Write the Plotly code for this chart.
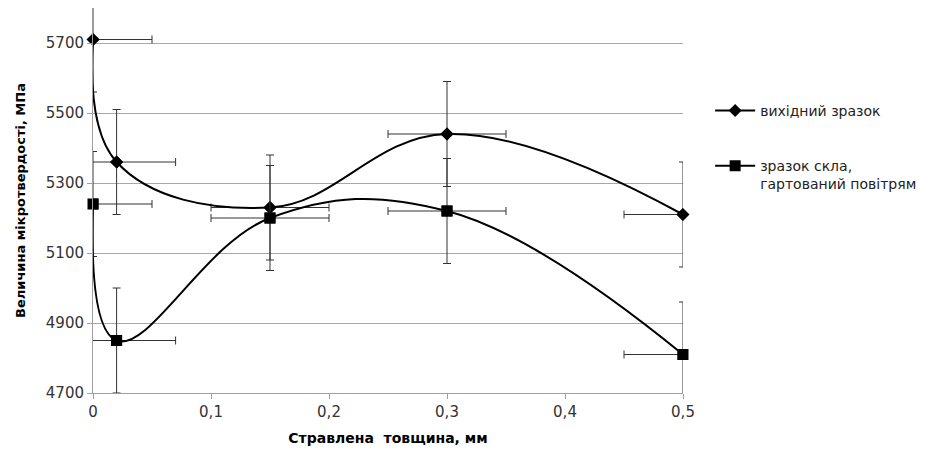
import plotly.graph_objects as go

x_vals = [0, 0.02, 0.15, 0.3, 0.5]
s1_name = "вихідний зразок"
s1_y = [5710, 5360, 5230, 5440, 5210]
s2_name = "зразок скла,<br>гартований повітрям"
s2_y = [5240, 4850, 5200, 5220, 4810]
y_err = [150, 150, 150, 150, 150]
x_err = [0.05, 0.05, 0.05, 0.05, 0.05]

x_title = "Стравлена\u00a0\u00a0товщина, мм"
y_title = "Величина мікротвердості, МПа"

ERR_COLOR = "#333333"
FONT = "DejaVu Sans"

fig = go.Figure()

for name, ys, sym, size, grp in [(s1_name, s1_y, "diamond", 10, "a"),
                                  (s2_name, s2_y, "square", 11, "b")]:
    fig.add_trace(go.Scatter(
        x=x_vals, y=ys, name=name, legendgroup=grp,
        mode="lines+markers",
        line=dict(color="black", width=2, shape="spline", smoothing=1.15),
        marker=dict(symbol=sym, size=size, color="black"),
        error_y=dict(type="data", array=y_err, color=ERR_COLOR, thickness=1, width=4),
        error_x=dict(type="data", array=x_err, color=ERR_COLOR, thickness=1, width=4),
        cliponaxis=True,
    ))
    fig.add_trace(go.Scatter(
        x=x_vals, y=ys, mode="markers", showlegend=False, legendgroup=grp,
        marker=dict(symbol=sym, size=size, color="black"),
        cliponaxis=False, hoverinfo="skip",
    ))

fig.update_layout(
    width=931, height=444,
    margin=dict(l=85, r=256, t=0, b=59, autoexpand=False),
    paper_bgcolor="white", plot_bgcolor="white",
    separators=", ",
    font=dict(family=FONT, size=15, color="#333333"),
    showlegend=True,
    legend=dict(x=1.046, xanchor="left", y=0.774, yanchor="top",
                font=dict(family=FONT, size=14, color="#222222"),
                tracegroupgap=34, valign="top", traceorder="grouped",
                itemwidth=40,
                bgcolor="rgba(0,0,0,0)"),
    xaxis=dict(range=[0, 0.5], dtick=0.1, tick0=0, showgrid=False,
               showline=True, linecolor="#a0a0a0", linewidth=1,
               ticks="outside", ticklen=5, tickcolor="#a0a0a0",
               zeroline=False,
               title=dict(text=x_title, font=dict(family=FONT, size=14, color="black", weight="bold"),
                          standoff=13)),
    yaxis=dict(range=[4700, 5800], tick0=4700, dtick=200, showgrid=True,
               gridcolor="#a8a8a8", gridwidth=1,
               showline=True, linecolor="#a0a0a0", linewidth=1,
               ticks="outside", ticklen=5, tickcolor="#a0a0a0",
               zeroline=False,
               title=dict(text=y_title, font=dict(family=FONT, size=13, color="black", weight="bold"),
                          standoff=17)),
)

fig.write_html("out.html")
